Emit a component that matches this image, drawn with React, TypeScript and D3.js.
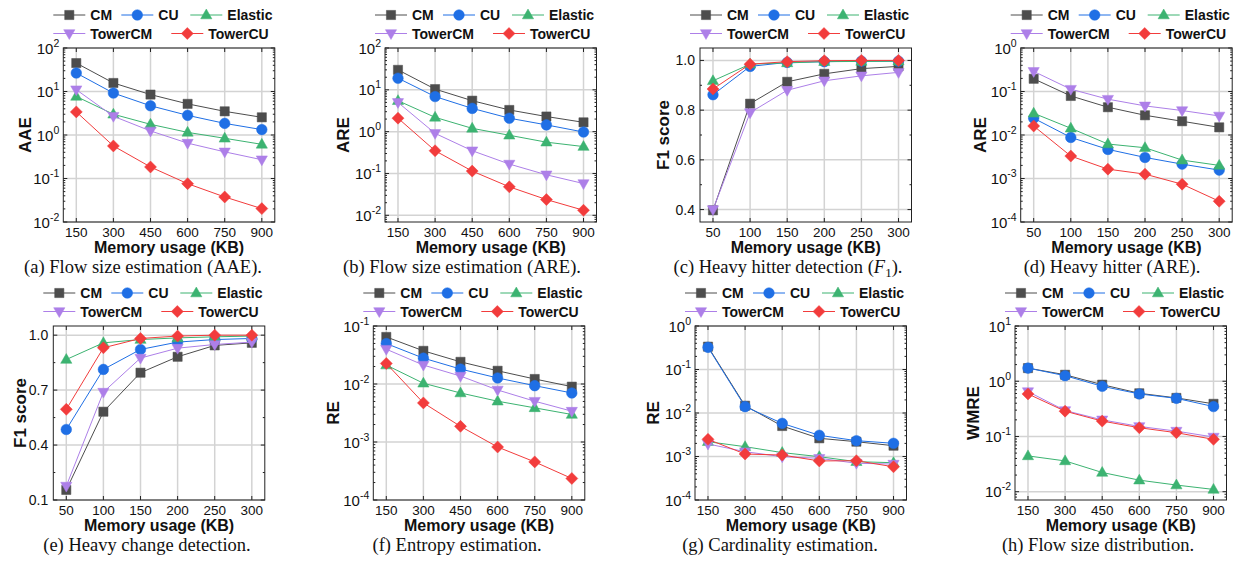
import React, { useEffect } from 'react';
import * as d3 from 'd3';

// series shared by all eight panels
const seriesNames = ['CM', 'CU', 'Elastic', 'TowerCM', 'TowerCU'];
const memLarge = [150, 300, 450, 600, 750, 900];
const memSmall = [50, 100, 150, 200, 250, 300];

// (a) flow size AAE, rows follow seriesNames
const flowAAE = [
  [45, 15.7, 8.5, 5.2, 3.5, 2.55],
  [26.6, 9.2, 4.7, 2.83, 1.85, 1.33],
  [7.7, 3.0, 1.76, 1.15, 0.84, 0.61],
  [11, 2.7, 1.24, 0.65, 0.41, 0.27],
  [3.4, 0.56, 0.184, 0.076, 0.0376, 0.0203],
];
// (b) flow size ARE
const flowARE = [
  [30, 10.4, 5.5, 3.3, 2.3, 1.67],
  [19, 6.9, 3.6, 2.1, 1.45, 0.98],
  [5.5, 2.2, 1.2, 0.82, 0.56, 0.44],
  [5.0, 0.91, 0.35, 0.168, 0.093, 0.0575],
  [2.1, 0.35, 0.114, 0.048, 0.0238, 0.0132],
];
// (c) heavy hitter F1
const hitterF1 = [
  [0.397, 0.826, 0.914, 0.946, 0.967, 0.976],
  [0.862, 0.976, 0.992, 0.995, 0.997, 0.997],
  [0.918, 0.985, 0.99, 0.995, 0.996, 0.997],
  [0.4, 0.79, 0.88, 0.918, 0.938, 0.952],
  [0.885, 0.985, 0.995, 0.999, 1.0, 1.0],
];
// (d) heavy hitter ARE
const hitterARE = [
  [0.196, 0.079, 0.0435, 0.0284, 0.0207, 0.015],
  [0.0243, 0.0088, 0.00467, 0.00305, 0.00214, 0.00156],
  [0.0316, 0.0143, 0.0062, 0.0051, 0.00265, 0.002],
  [0.29, 0.113, 0.0666, 0.0467, 0.0365, 0.0274],
  [0.0161, 0.00328, 0.00164, 0.00126, 0.00074, 0.0003],
];
// (e) heavy change F1
const changeF1 = [
  [0.155, 0.582, 0.795, 0.882, 0.944, 0.958],
  [0.485, 0.813, 0.922, 0.962, 0.976, 0.982],
  [0.867, 0.958, 0.976, 0.985, 0.991, 0.995],
  [0.176, 0.689, 0.875, 0.929, 0.949, 0.962],
  [0.595, 0.931, 0.982, 0.995, 1.0, 1.0],
];
// (f) entropy RE
const entropyRE = [
  [0.0648, 0.0373, 0.0241, 0.0169, 0.0122, 0.009],
  [0.0498, 0.0279, 0.0181, 0.0127, 0.00936, 0.007],
  [0.0212, 0.0103, 0.007, 0.00505, 0.00388, 0.00298],
  [0.0398, 0.0212, 0.0137, 0.00789, 0.00505, 0.0034],
  [0.0226, 0.00472, 0.00186, 0.00082, 0.000454, 0.000235],
];
// (g) cardinality RE
const cardRE = [
  [0.335, 0.0147, 0.00502, 0.00262, 0.00219, 0.00177],
  [0.323, 0.014, 0.00578, 0.00307, 0.00231, 0.00201],
  [0.00219, 0.00168, 0.00123, 0.00099, 0.00076, 0.00072],
  [0.00194, 0.00129, 0.00099, 0.00091, 0.0007, 0.00067],
  [0.00248, 0.00114, 0.00108, 0.00079, 0.0008, 0.00058],
];
// (h) flow size distribution WMRE
const distWMRE = [
  [1.73, 1.31, 0.867, 0.605, 0.499, 0.39],
  [1.73, 1.26, 0.81, 0.589, 0.49, 0.348],
  [0.0445, 0.0361, 0.0223, 0.0162, 0.0132, 0.011],
  [0.65, 0.295, 0.2, 0.152, 0.125, 0.0977],
  [0.589, 0.287, 0.19, 0.144, 0.117, 0.0887],
];

const f1TicksC = [0.4, 0.6, 0.8, 1.0];
const f1TicksE = [0.1, 0.4, 0.7, 1.0];

const colors = ['#4d4d4d', '#1f6fe5', '#3cb371', '#ad7fe8', '#f23c3c'];
const markers = ['square', 'circle', 'triUp', 'triDown', 'diamond'];

const W = 211.5;
const H = 174;
const sans = '"Liberation Sans", Arial, Helvetica, sans-serif';
const serif = '"Liberation Serif", "Times New Roman", serif';

const panels = [
  { data: flowAAE, xs: memLarge, log: true, dom: [-2, 2], label: 'AAE', left: 63.3, top: 48, titleX: 25, capX: 143, cap: '(a) Flow size estimation (AAE).' },
  { data: flowARE, xs: memLarge, log: true, dom: [-2.16, 2], label: 'ARE', left: 385, top: 48, titleX: 343, capX: 462, cap: '(b) Flow size estimation (ARE).' },
  { data: hitterF1, xs: memSmall, log: false, dom: [0.35, 1.05], ticks: f1TicksC, label: 'F1 score', left: 700, top: 48, titleX: 663, capX: 788, cap: 'F1' },
  { data: hitterARE, xs: memSmall, log: true, dom: [-4, 0], label: 'ARE', left: 1020.7, top: 48, titleX: 980, capX: 1112, cap: '(d) Heavy hitter (ARE).' },
  { data: changeF1, xs: memSmall, log: false, dom: [0.1, 1.05], ticks: f1TicksE, label: 'F1 score', left: 53.3, top: 326, titleX: 20, capX: 147, cap: '(e) Heavy change detection.' },
  { data: entropyRE, xs: memLarge, log: true, dom: [-4, -1], label: 'RE', left: 373.3, top: 326, titleX: 333, capX: 457, cap: '(f) Entropy estimation.' },
  { data: cardRE, xs: memLarge, log: true, dom: [-4, 0], label: 'RE', left: 695, top: 326, titleX: 653, capX: 780, cap: '(g) Cardinality estimation.' },
  { data: distWMRE, xs: memLarge, log: true, dom: [-2.15, 1], label: 'WMRE', left: 1015, top: 326, titleX: 973, capX: 1098, cap: '(h) Flow size distribution.' },
];

// legend entry offsets from the frame's left edge
const legendPos = [
  { dx: -10, row: 0 }, { dx: 58, row: 0 }, { dx: 127, row: 0 },
  { dx: -10, row: 1 }, { dx: 108, row: 1 },
];

function markerPath(type) {
  switch (type) {
    case 'square': return 'M-4.6,-4.6h9.2v9.2h-9.2z';
    case 'circle': return d3.symbol(d3.symbolCircle, Math.PI * 28)();
    case 'triUp': return 'M0,-6L5.6,3.8L-5.6,3.8Z';
    case 'triDown': return 'M0,6L5.6,-3.8L-5.6,-3.8Z';
    default: return 'M0,-6L6,0L0,6L-6,0Z';
  }
}

function Panel({ p }) {
  const step = p.xs[1] - p.xs[0];
  const x = d3.scaleLinear()
    .domain([p.xs[0] - 0.35 * step, p.xs[p.xs.length - 1] + 0.35 * step])
    .range([p.left, p.left + W]);
  const y = p.log
    ? d3.scaleLog().domain([10 ** p.dom[0], 10 ** p.dom[1]]).range([p.top + H, p.top])
    : d3.scaleLinear().domain(p.dom).range([p.top + H, p.top]);

  const right = p.left + W;
  const bottom = p.top + H;

  let major = [];
  let minor = [];
  if (p.log) {
    for (let e = Math.ceil(p.dom[0] - 1e-9); e <= Math.floor(p.dom[1] + 1e-9); e++) major.push(e);
    for (let e = Math.floor(p.dom[0]); e < p.dom[1]; e++) {
      for (let k = 2; k <= 9; k++) {
        const v = k * 10 ** e;
        if (Math.log10(v) >= p.dom[0] && Math.log10(v) <= p.dom[1]) minor.push(v);
      }
    }
  } else {
    major = p.ticks;
    for (let i = 0; i < p.ticks.length - 1; i++) minor.push((p.ticks[i] + p.ticks[i + 1]) / 2);
  }
  const yVal = (t) => (p.log ? 10 ** t : t);

  const line = d3.line().x((d, i) => x(p.xs[i])).y((d) => y(d));
  const rowBase = p.top + H;

  return (
    <g>
      {/* grid */}
      {p.xs.map((v) => (
        <line key={'gx' + v} x1={x(v)} x2={x(v)} y1={p.top} y2={bottom} stroke="#d3d3d3" strokeWidth={1.5} />
      ))}
      {major.map((t) => (
        <line key={'gy' + t} x1={p.left} x2={right} y1={y(yVal(t))} y2={y(yVal(t))} stroke="#d3d3d3" strokeWidth={1.5} />
      ))}
      {/* ticks */}
      {p.xs.map((v) => (
        <g key={'tx' + v}>
          <line x1={x(v)} x2={x(v)} y1={bottom} y2={bottom - 4} stroke="#222" />
          <line x1={x(v)} x2={x(v)} y1={p.top} y2={p.top + 4} stroke="#222" />
        </g>
      ))}
      {major.map((t) => (
        <g key={'ty' + t}>
          <line x1={p.left} x2={p.left + 4} y1={y(yVal(t))} y2={y(yVal(t))} stroke="#222" />
          <line x1={right} x2={right - 4} y1={y(yVal(t))} y2={y(yVal(t))} stroke="#222" />
        </g>
      ))}
      {minor.map((v) => (
        <g key={'tm' + v}>
          <line x1={p.left} x2={p.left + 2} y1={y(v)} y2={y(v)} stroke="#222" />
          <line x1={right} x2={right - 2} y1={y(v)} y2={y(v)} stroke="#222" />
        </g>
      ))}
      <rect x={p.left} y={p.top} width={W} height={H} fill="none" stroke="#222" strokeWidth={1} />

      {/* series */}
      {p.data.map((vals, si) => (
        <g key={'s' + si}>
          <path d={line(vals)} fill="none" stroke={colors[si]} strokeWidth={1} />
          {vals.map((v, i) => (
            <path key={i} d={markerPath(markers[si])} transform={`translate(${x(p.xs[i])},${y(v)})`}
              fill={colors[si]} stroke={colors[si]} strokeWidth={0.5} />
          ))}
        </g>
      ))}

      {/* tick labels */}
      {p.xs.map((v) => (
        <text key={'lx' + v} x={x(v)} y={rowBase + 14.5} textAnchor="middle" fontFamily={sans} fontSize={13.5} fill="#111">{v}</text>
      ))}
      {major.map((t) =>
        p.log ? (
          <text key={'ly' + t} x={p.left - 4} y={y(yVal(t)) + 5.5} textAnchor="end" fontFamily={sans} fontSize={15} fill="#111">
            10<tspan dy={-7} fontSize={10.5}>{t}</tspan>
          </text>
        ) : (
          <text key={'ly' + t} x={p.left - 5} y={y(t) + 5} textAnchor="end" fontFamily={sans} fontSize={14} fill="#111">{t.toFixed(1)}</text>
        )
      )}

      {/* axis titles */}
      <text x={(p.left + right) / 2} y={rowBase + 31} textAnchor="middle" fontFamily={sans} fontWeight="bold" fontSize={16} fill="#111">Memory usage (KB)</text>
      <text transform={`translate(${p.titleX},${p.top + H / 2}) rotate(-90)`} dy="0.35em" textAnchor="middle" fontFamily={sans} fontWeight="bold" fontSize={17} fill="#111">{p.label}</text>

      {/* legend */}
      {seriesNames.map((name, si) => {
        const lp = legendPos[si];
        const lx = p.left + lp.dx;
        const ly = p.top - 33 + lp.row * 18.5;
        return (
          <g key={'lg' + si}>
            <line x1={lx} x2={lx + 32} y1={ly} y2={ly} stroke={colors[si]} strokeWidth={1} />
            <path d={markerPath(markers[si])} transform={`translate(${lx + 16},${ly})`} fill={colors[si]} stroke={colors[si]} strokeWidth={0.5} />
            <text x={lx + 37} y={ly} dy="0.36em" fontFamily={sans} fontWeight="bold" fontSize={14} fill="#111">{name}</text>
          </g>
        );
      })}

      {/* caption */}
      {p.cap === 'F1' ? (
        <text x={p.capX} y={rowBase + 50.5} textAnchor="middle" fontFamily={serif} fontSize={18.5} fill="#111">
          (c) Heavy hitter detection (<tspan fontStyle="italic">F</tspan><tspan dy={4} fontSize={13}>1</tspan><tspan dy={-4}>).</tspan>
        </text>
      ) : (
        <text x={p.capX} y={rowBase + 50.5} textAnchor="middle" fontFamily={serif} fontSize={18.5} fill="#111">{p.cap}</text>
      )}
    </g>
  );
}

export default function App() {
  useEffect(() => {
    document.body.style.margin = '0';
  }, []);
  return (
    <svg width={1240} height={561} style={{ display: 'block', background: '#fff' }}>
      <rect width={1240} height={561} fill="#fff" />
      {panels.map((p, i) => <Panel key={i} p={p} />)}
    </svg>
  );
}
